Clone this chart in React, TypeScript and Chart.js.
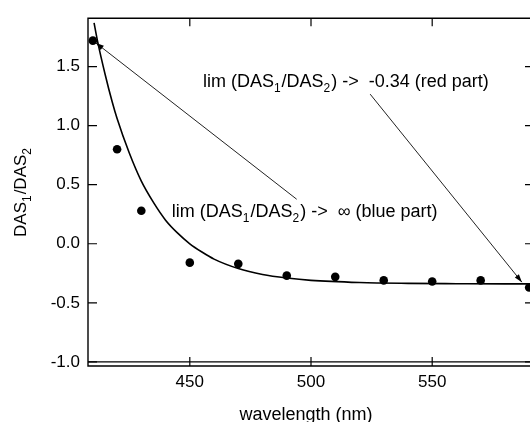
import React, { useEffect, useRef } from "react";
import { Chart, registerables } from "chart.js";
Chart.register(...registerables);

// measured points
const wavelengths = [410, 420, 430, 450, 470, 490, 510, 530, 550, 570, 590];
const ratios = [1.72, 0.8, 0.28, -0.16, -0.17, -0.27, -0.28, -0.31, -0.32, -0.31, -0.37];

// fitted curve
const fitWavelengths = [410.5, 412, 415, 418, 420, 425, 430, 435, 440, 445, 450, 455, 460, 470, 480, 490, 500, 520, 540, 560, 580, 592];
const fitRatios = [1.87, 1.71, 1.44, 1.2, 1.06, 0.77, 0.53, 0.35, 0.2, 0.09, 0.0, -0.07, -0.13, -0.21, -0.26, -0.29, -0.31, -0.328, -0.335, -0.338, -0.34, -0.34];

const xTicks = [450, 500, 550];
const yTicks = [-1.0, -0.5, 0.0, 0.5, 1.0, 1.5];
const xMin = 408;
const xMax = 592;
const yMin = -1.035;
const yMax = 1.91;
const baseLineValue = -1.0;

const xTitle = "wavelength (nm)";
const yTitleParts: [string, boolean][] = [["DAS", false], ["1", true], ["/DAS", false], ["2", true]];

const redText: [string, boolean][] = [["lim (DAS", false], ["1", true], ["/DAS", false], ["2", true], [") ->  -0.34 (red part)", false]];
const blueText: [string, boolean][] = [["lim (DAS", false], ["1", true], ["/DAS", false], ["2", true], [") ->  \u221E (blue part)", false]];

const annotations = [
  { parts: redText, at: [455.4, 1.327], from: [524.4, 1.267], to: [587.0, -0.325] },
  { parts: blueText, at: [442.6, 0.225], from: [494.1, 0.377], to: [411.3, 1.7] },
];

const FONT = "'Liberation Sans', Arial, Helvetica, sans-serif";
const W = 540;
const H = 422;

function drawRich(ctx: CanvasRenderingContext2D, parts: [string, boolean][], x: number, y: number, size: number, subSize: number, subDy: number) {
  let cx = x;
  for (const [t, sub] of parts) {
    ctx.font = `${sub ? subSize : size}px ${FONT}`;
    ctx.fillText(t, cx, sub ? y + subDy : y);
    cx += ctx.measureText(t).width + (sub ? 1 : 0);
  }
  return cx - x;
}
function richWidth(ctx: CanvasRenderingContext2D, parts: [string, boolean][], size: number, subSize: number) {
  let w = 0;
  for (const [t, sub] of parts) {
    ctx.font = `${sub ? subSize : size}px ${FONT}`;
    w += ctx.measureText(t).width + (sub ? 1 : 0);
  }
  return w;
}

const framePlugin = {
  id: "frame",
  afterDraw(chart: any) {
    const ctx: CanvasRenderingContext2D = chart.ctx;
    const { left, right, top, bottom } = chart.chartArea;
    const xs = chart.scales.x;
    const ys = chart.scales.y;
    ctx.save();
    ctx.strokeStyle = "#000";
    ctx.fillStyle = "#000";
    // box
    ctx.lineWidth = 1.4;
    ctx.beginPath();
    ctx.moveTo(left, top);
    ctx.lineTo(right, top);
    ctx.lineTo(right, bottom);
    ctx.lineTo(left, bottom);
    ctx.closePath();
    ctx.stroke();
    // line at -1.0
    const yb = ys.getPixelForValue(baseLineValue);
    ctx.lineWidth = 1.2;
    ctx.beginPath();
    ctx.moveTo(left, yb);
    ctx.lineTo(right, yb);
    ctx.stroke();
    // ticks
    ctx.lineWidth = 1.2;
    const tl = 9;
    ctx.beginPath();
    for (const v of yTicks) {
      const p = ys.getPixelForValue(v);
      ctx.moveTo(left, p);
      ctx.lineTo(left + tl, p);
      ctx.moveTo(right, p);
      ctx.lineTo(right - tl, p);
    }
    for (const v of xTicks) {
      const p = xs.getPixelForValue(v);
      ctx.moveTo(p, top);
      ctx.lineTo(p, top + 8);
      ctx.moveTo(p, bottom);
      ctx.lineTo(p, bottom - tl);
    }
    ctx.stroke();

    // annotations
    ctx.textBaseline = "alphabetic";
    ctx.textAlign = "left";
    for (const a of annotations) {
      const tx = xs.getPixelForValue(a.at[0]);
      const ty = ys.getPixelForValue(a.at[1]);
      drawRich(ctx, a.parts, tx, ty, 18, 12, 5);
      const x1 = xs.getPixelForValue(a.from[0]);
      const y1 = ys.getPixelForValue(a.from[1]);
      const x2 = xs.getPixelForValue(a.to[0]);
      const y2 = ys.getPixelForValue(a.to[1]);
      ctx.lineWidth = 1;
      ctx.strokeStyle = "#222";
      ctx.beginPath();
      ctx.moveTo(x1, y1);
      ctx.lineTo(x2, y2);
      ctx.stroke();
      const ang = Math.atan2(y2 - y1, x2 - x1);
      const L = 8, hw = 2.6;
      ctx.beginPath();
      ctx.moveTo(x2, y2);
      ctx.lineTo(x2 - L * Math.cos(ang) + hw * Math.sin(ang), y2 - L * Math.sin(ang) - hw * Math.cos(ang));
      ctx.lineTo(x2 - L * Math.cos(ang) - hw * Math.sin(ang), y2 - L * Math.sin(ang) + hw * Math.cos(ang));
      ctx.closePath();
      ctx.fill();
    }

    // x title
    ctx.font = `18px ${FONT}`;
    ctx.textAlign = "center";
    ctx.fillText(xTitle, 306, 420);

    // y title
    ctx.textAlign = "left";
    const yw = richWidth(ctx, yTitleParts, 17, 12);
    ctx.translate(25.5, 192);
    ctx.rotate(-Math.PI / 2);
    drawRich(ctx, yTitleParts, -yw / 2, 0, 17, 12, 5);
    ctx.restore();
  },
};

export default function App() {
  const ref = useRef<HTMLCanvasElement | null>(null);
  useEffect(() => {
    if (!ref.current) return;
    const chart = new Chart(ref.current, {
      type: "scatter",
      data: {
        datasets: [
          {
            data: fitWavelengths.map((x, i) => ({ x, y: fitRatios[i] })),
            showLine: true,
            borderColor: "#000",
            borderWidth: 1.6,
            pointRadius: 0,
            cubicInterpolationMode: "monotone",
            fill: false,
          } as any,
          {
            data: wavelengths.map((x, i) => ({ x, y: ratios[i] })),
            backgroundColor: "#000",
            borderColor: "#000",
            borderWidth: 0,
            pointRadius: 4.3,
          },
        ],
      },
      options: {
        responsive: false,
        animation: false,
        devicePixelRatio: 1,
        layout: { padding: { left: 0, top: 13, right: W - 534, bottom: 0 } },
        plugins: { legend: { display: false }, tooltip: { enabled: false } },
        scales: {
          x: {
            type: "linear",
            min: xMin,
            max: xMax,
            afterBuildTicks: (s: any) => { s.ticks = xTicks.map((v) => ({ value: v })); },
            afterFit: (s: any) => { s.height = H - 366; },
            grid: { display: false, drawTicks: false },
            border: { display: false },
            ticks: { font: { family: FONT, size: 17 }, color: "#000", padding: 6, maxRotation: 0, autoSkip: false, callback: (v: any) => String(v) },
          },
          y: {
            type: "linear",
            min: yMin,
            max: yMax,
            afterBuildTicks: (s: any) => { s.ticks = yTicks.map((v) => ({ value: v })); },
            afterFit: (s: any) => { s.width = 88; },
            grid: { display: false, drawTicks: false },
            border: { display: false },
            ticks: { font: { family: FONT, size: 17 }, color: "#000", padding: 8, autoSkip: false, callback: (v: any) => Number(v).toFixed(1) },
          },
        },
      },
      plugins: [framePlugin],
    });
    return () => chart.destroy();
  }, []);
  return (
    <div style={{ position: "absolute", left: 0, top: 0, width: 530, height: 422, overflow: "hidden", background: "#fff" }}>
      <canvas ref={ref} width={W} height={H} style={{ display: "block" }} />
    </div>
  );
}
